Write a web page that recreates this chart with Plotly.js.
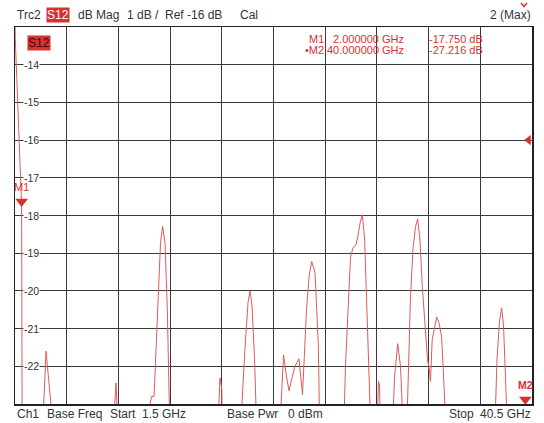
<!DOCTYPE html>
<html><head><meta charset="utf-8">
<script src="https://cdn.plot.ly/plotly-3.0.1.min.js"></script>
<style>html,body{margin:0;padding:0;background:#fff}#c{width:544px;height:423px}</style>
</head><body><div id="c"></div>
<script>
// ---- data ----
const freqGHz = [1.5,1.52,2.0,2.04,2.5,3.54,3.84,4.48,6,8.86,9.12,9.31,10.5,
 11.6,11.68,11.81,11.99,12.14,12.2,12.36,12.48,12.64,12.82,12.99,13.14,13.2,15,
 16.77,16.96,17.1,17.14,18,
 18.55,18.59,18.85,19.08,19.23,19.38,19.57,19.72,19.76,20.5,
 21.49,21.57,21.76,21.95,22.17,22.40,22.62,22.92,23.19,23.49,23.69,23.88,24.13,24.38,24.5,25.4,
 26.28,26.43,26.64,26.81,27.0,27.22,27.34,27.53,27.70,27.87,28.02,28.17,28.32,28.55,
 28.77,28.92,29.0,29.07,29.5,
 29.94,30.13,30.37,30.58,30.81,30.88,30.95,
 31.03,31.18,31.33,31.52,31.71,31.87,32.04,32.23,32.42,32.61,32.76,32.84,32.97,33.31,33.48,33.68,33.82,33.97,34.05,35.5,
 37.67,37.86,38.05,38.21,38.35,38.5,38.62,39,40,40.5];
const magDB = [-12.6,-13.3,-17.75,-24,-27,-24,-21.6,-24,-27,-24,-22.44,-24,-27,
 -24,-23.0,-22.8,-22.8,-21.4,-21.0,-19.5,-18.7,-18.29,-18.74,-20.5,-23.0,-24,-27,
 -24,-22.31,-22.6,-24,-27,
 -24,-23.2,-21.5,-20.3,-20.0,-20.4,-21.8,-23.3,-24,-27,
 -24,-23.0,-21.7,-22.2,-22.65,-22.3,-22.0,-21.8,-22.75,-20.5,-19.6,-19.22,-19.5,-21.4,-24,-27,
 -24,-22,-20.2,-19.1,-18.85,-18.78,-18.6,-18.2,-17.98,-18.6,-20.2,-22,-24,-26,
 -24,-22.4,-22.5,-24,-27,
 -24,-22.3,-21.4,-22.0,-23.3,-24,-25,
 -24,-22,-20.2,-18.9,-18.3,-18.09,-18.6,-19.9,-21.0,-21.8,-22.1,-22.4,-21.3,-20.69,-20.85,-21.2,-22.2,-23.5,-24,-27,
 -24,-21.8,-20.8,-20.45,-20.9,-22.3,-24,-27,-27.216,-27.5];
const markerNames = ["M1","M2"];
const markerFreq = [2.0, 40.0];
const markerDB = [-17.75, -27.216];
const markerFreqText = ["2.000000 GHz","40.000000 GHz"];
const markerDBText = ["-17.750 dB","-27.216 dB"];
const yTickVals = [-14,-15,-16,-17,-18,-19,-20,-21,-22];
const yTickText = ["-14","-15","-16","-17","-18","-19","-20","-21","-22"];
const refLevel = -16;
const startGHz = 1.5, stopGHz = 40.5, yMin = -23, yMax = -13;

// ---- layout helpers (pixel -> paper) ----
const L = 15, R = 532, T = 27, B = 404, W = 544, H = 423;
const px = v => (v - L) / (R - L);
const py = v => (B - v) / (B - T);
const red = '#d8312f', trace = '#e05a5a', txt = '#333';
const font = 'Liberation Sans, Arial, sans-serif';

const ann = [];
function t(text, x, y, opt) {
  ann.push(Object.assign({text, xref:'paper', yref:'paper', x:px(x), y:py(y),
    showarrow:false, font:{family:font, size:12, color:txt}, xanchor:'left', yanchor:'middle'}, opt||{}));
}
// header
t('Trc2', 15, 15.5);
t('S12', 46, 15.5, {bgcolor:red, font:{family:font,size:12,color:'#fff'}, borderpad:0});
t('dB Mag', 75.5, 15.5);
t('1 dB /', 125, 15.5);
t('Ref -16 dB', 162.5, 15.5);
t('Cal', 237.5, 15.5);
t('2 (Max)', 533, 15.5, {xanchor:'right'});
// footer
t('Ch1', 15, 414);
t('Base Freq', 45, 414);
t('Start', 107.5, 414);
t('1.5 GHz', 140, 414);
t('Base Pwr', 225, 414);
t('0 dBm', 286, 414);
t('Stop', 447, 414);
t('40.5 GHz', 533, 414, {xanchor:'right'});
// trace tag inside plot
t('S12', 27, 42.5, {bgcolor:red, font:{family:font,size:12,color:'#3a0808'}, borderpad:0});
// marker readout
const rowY = [39, 50];
markerNames.forEach((m, i) => {
  const f = {family:font, size:11, color:red};
  t((i===1?'•':'') + m, 326, rowY[i], {xanchor:'right', font:f});
  t(markerFreqText[i], 406, rowY[i], {xanchor:'right', font:f});
  t(markerDBText[i], 427, rowY[i], {xanchor:'left', font:f});
});
// y tick labels with white background breaking the gridline
yTickVals.forEach((v, i) => {
  ann.push({text:yTickText[i], xref:'paper', yref:'y', x:px(31.5), y:v, showarrow:false,
    xanchor:'center', yanchor:'middle', bgcolor:'#fff', borderpad:0,
    font:{family:font, size:10.5, color:txt}});
});
// marker labels
const yPerPx = (yMax - yMin) / (B - T);
markerNames.forEach((m, i) => {
  const onScale = markerDB[i] >= yMin;
  ann.push({text: onScale ? m : '<b>'+m+'</b>', xref:'x', yref:'y', x:markerFreq[i],
    y: Math.max(markerDB[i], yMin), showarrow:false, xanchor:'center', yanchor:'bottom',
    yshift: 11, font:{family:font, size:onScale?11:10.5, color:red}});
});

const data = [
  {x:freqGHz, y:magDB, type:'scatter', mode:'lines', line:{color:trace, width:1}, hoverinfo:'skip'},
  {x:markerFreq, y:markerDB.map(v => Math.max(v, yMin) + 4.5*yPerPx), type:'scatter', mode:'markers',
   marker:{symbol:'triangle-down', size:11, color:red}, cliponaxis:false, hoverinfo:'skip'},
  {x:[stopGHz - 3.5*(stopGHz-startGHz)/(R-L)], y:[refLevel], type:'scatter', mode:'markers',
   marker:{symbol:'triangle-left', size:9, color:red}, cliponaxis:false, hoverinfo:'skip'}
];

const layout = {
  width:W, height:H, showlegend:false,
  margin:{l:L, r:W-R, t:T, b:H-B, pad:0},
  paper_bgcolor:'#fff', plot_bgcolor:'#fff',
  xaxis:{range:[startGHz, stopGHz], tick0:startGHz, dtick:(stopGHz-startGHz)/10, showticklabels:false,
    ticks:'', showgrid:true, gridcolor:'#3a3a3a', gridwidth:1, zeroline:false,
    showline:true, linecolor:'#222', linewidth:1.5, mirror:true, fixedrange:true},
  yaxis:{range:[yMin, yMax], tick0:yMin, dtick:1, showticklabels:false, ticks:'',
    showgrid:true, gridcolor:'#3a3a3a', gridwidth:1, zeroline:false,
    showline:true, linecolor:'#222', linewidth:1.5, mirror:true, fixedrange:true},
  shapes:[{type:'path', xref:'paper', yref:'paper',
    path:`M ${px(521)} ${py(3)} L ${px(524)} ${py(6.5)} L ${px(527)} ${py(3)}`,
    line:{color:red, width:1.5}}],
  annotations: ann
};
Plotly.newPlot('c', data, layout, {staticPlot:true, displayModeBar:false});
</script></body></html>
